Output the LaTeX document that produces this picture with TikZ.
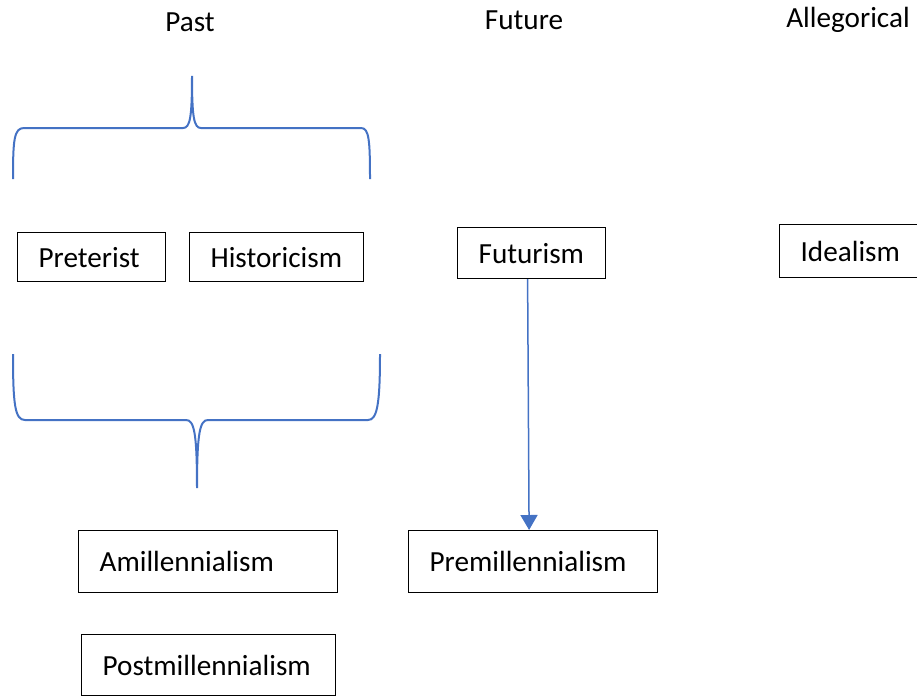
\documentclass[tikz,border=0pt]{standalone}
\usepackage{fontspec}
\setmainfont{Carlito}
\usetikzlibrary{arrows.meta,positioning}
\definecolor{braceblue}{RGB}{68,114,196}
\newcommand{\bigfont}{\fontsize{29.2}{35}\selectfont}
\tikzset{
  heading/.style={font=\bigfont, inner sep=0pt},
  termbox/.style={draw, line width=1.2pt, anchor=north west, inner xsep=21pt,
    inner ysep=0pt, align=left, font=\bigfont},
  bracket/.style={draw=braceblue, line width=2pt},
  flow/.style={draw=braceblue, line width=1.5pt, -{Triangle[width=17pt,length=15pt]}}
}
\begin{document}
\begin{tikzpicture}[x=1pt,y=-1pt]
  \useasboundingbox (0,0) rectangle (917,696);
  \node[heading] (past) at (190,22) {Past};
  \node[heading] (future) at (524,20) {Future};
  \node[heading] (allegorical) at (848,20) {Allegorical};
  \node[termbox, text width=106pt, minimum height=49pt] (preterist) at (17,232) {Preterist};
  \node[termbox, text width=132pt, minimum height=49pt] (historicism) at (189,232) {Historicism};
  \node[termbox, text width=106pt, minimum height=51pt] (futurism) at (457,227) {Futurism};
  \node[termbox, text width=120pt, minimum height=53pt] (idealism) at (779,224) {Idealism};
  \node[termbox, text width=217pt, minimum height=62pt] (amill) at (78,530) {Amillennialism};
  \node[termbox, text width=207pt, minimum height=62pt] (premill) at (408,530) {Premillennialism};
  \node[termbox, text width=212pt, minimum height=61pt] (postmill) at (81,634) {Postmillennialism};
  \draw[flow] ([xshift=-4pt]futurism.south) -- ([xshift=-4pt]premill.north);
  \draw[bracket] (13,179) .. controls (13,140) and (14,128) .. (24,128)
    -- (183,128) .. controls (190,128) and (192,118) .. (192,76)
    .. controls (192,118) and (194,128) .. (201,128)
    -- (361,128) .. controls (369,128) and (370,140) .. (370,179);
  \draw[bracket] (13,354) .. controls (13,405) and (15,420) .. (25,420)
    -- (186,420) .. controls (194,420) and (197,432) .. (197,488)
    .. controls (197,432) and (200,420) .. (208,420)
    -- (368,420) .. controls (377,420) and (380,405) .. (380,354);
\end{tikzpicture}
\end{document}
